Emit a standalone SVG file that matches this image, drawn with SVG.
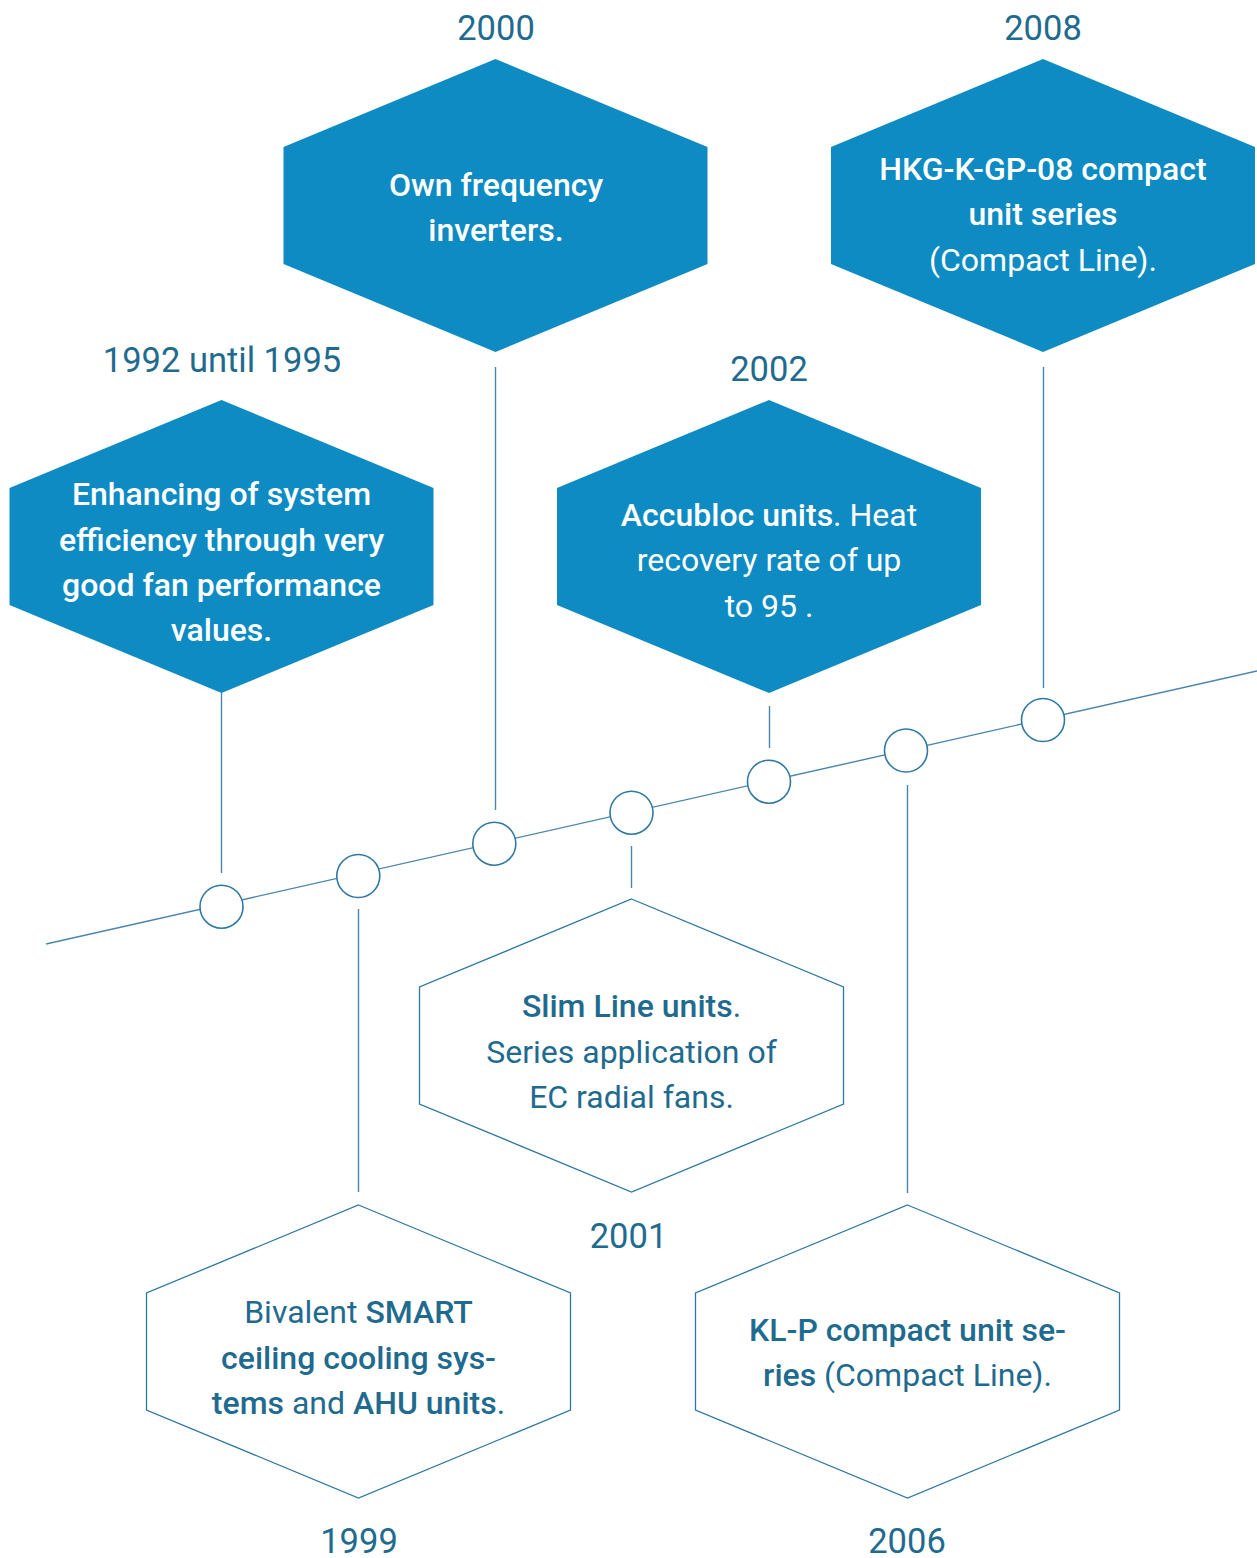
<svg xmlns="http://www.w3.org/2000/svg" width="1257" height="1558" viewBox="0 0 1257 1558">
<style>
text{font-family:Roboto,"Liberation Sans",sans-serif;text-anchor:middle}
.yr{font-size:34.5px;fill:#1f6b8f}
.w{font-size:32px;fill:#ffffff;font-weight:500}
.d{font-size:32px;fill:#1f6b8f}
.b{font-weight:500}
.r{font-weight:400}
.fill{fill:#0e8bc3}
.out{fill:none;stroke:#2f78a2;stroke-width:1.3}
.ln{stroke:#4a86ab;stroke-width:1.4;fill:none}
.c{fill:#ffffff;stroke:#2f78a2;stroke-width:1.6}
</style>
<defs>
<polygon id="hex" points="0,0 212,88 212,205 0,293 -212,205 -212,88"/>
</defs>
<g id="connectors">
<line class="ln" x1="46" y1="944" x2="1257" y2="671"/>
<line class="ln" x1="221.5" y1="693" x2="221.5" y2="873"/>
<line class="ln" x1="495.5" y1="367" x2="495.5" y2="810"/>
<line class="ln" x1="358.5" y1="909" x2="358.5" y2="1192"/>
<line class="ln" x1="631.5" y1="846" x2="631.5" y2="888"/>
<line class="ln" x1="769.5" y1="706" x2="769.5" y2="748"/>
<line class="ln" x1="907.5" y1="785" x2="907.5" y2="1193"/>
<line class="ln" x1="1043.5" y1="367" x2="1043.5" y2="688"/>
<circle class="c" cx="221.5" cy="906.7" r="21.5"/>
<circle class="c" cx="358.3" cy="876" r="21.5"/>
<circle class="c" cx="494.3" cy="843.7" r="21.5"/>
<circle class="c" cx="631.5" cy="812.7" r="21.5"/>
<circle class="c" cx="769" cy="781.7" r="21.5"/>
<circle class="c" cx="906" cy="750.5" r="21.5"/>
<circle class="c" cx="1043" cy="720" r="21.5"/>
</g>
<g id="n1992">
<use href="#hex" class="fill" x="221.5" y="400"/>
<text class="yr" x="222" y="372">1992 until 1995</text>
<text class="w" x="221.5" y="505">Enhancing of system</text>
<text class="w" x="221.5" y="551">efficiency through very</text>
<text class="w" x="221.5" y="596">good fan performance</text>
<text class="w" x="221.5" y="641">values.</text>
</g>
<g id="n2000">
<use href="#hex" class="fill" x="495.5" y="59"/>
<text class="yr" x="496" y="40">2000</text>
<text class="w" x="496" y="196">Own frequency</text>
<text class="w" x="496" y="241">inverters.</text>
</g>
<g id="n2008">
<use href="#hex" class="fill" x="1043" y="59"/>
<text class="yr" x="1043" y="40">2008</text>
<text class="w" x="1043" y="180">HKG-K-GP-08 compact</text>
<text class="w" x="1043" y="225">unit series</text>
<text class="w r" x="1043" y="271">(Compact Line).</text>
</g>
<g id="n2002">
<use href="#hex" class="fill" x="769" y="400"/>
<text class="yr" x="769" y="381">2002</text>
<text class="w" x="769" y="526">Accubloc units<tspan class="r">. Heat</tspan></text>
<text class="w r" x="769" y="571">recovery rate of up</text>
<text class="w r" x="769" y="617">to 95 .</text>
</g>
<g id="n2001">
<use href="#hex" class="out" x="631.5" y="899"/>
<text class="yr" x="628.5" y="1248">2001</text>
<text class="d" x="631.5" y="1017"><tspan class="b">Slim Line units</tspan>.</text>
<text class="d" x="631.5" y="1063">Series application of</text>
<text class="d" x="631.5" y="1108">EC radial fans.</text>
</g>
<g id="n1999">
<use href="#hex" class="out" x="358.5" y="1205"/>
<text class="yr" x="359" y="1553">1999</text>
<text class="d" x="358.5" y="1323">Bivalent <tspan class="b">SMART</tspan></text>
<text class="d b" x="358.5" y="1369">ceiling cooling sys-</text>
<text class="d" x="358.5" y="1414"><tspan class="b">tems</tspan> and <tspan class="b">AHU units</tspan>.</text>
</g>
<g id="n2006">
<use href="#hex" class="out" x="907.5" y="1205"/>
<text class="yr" x="907" y="1553">2006</text>
<text class="d b" x="907.5" y="1341">KL-P compact unit se-</text>
<text class="d" x="907.5" y="1386"><tspan class="b">ries</tspan> (Compact Line).</text>
</g>
</svg>
